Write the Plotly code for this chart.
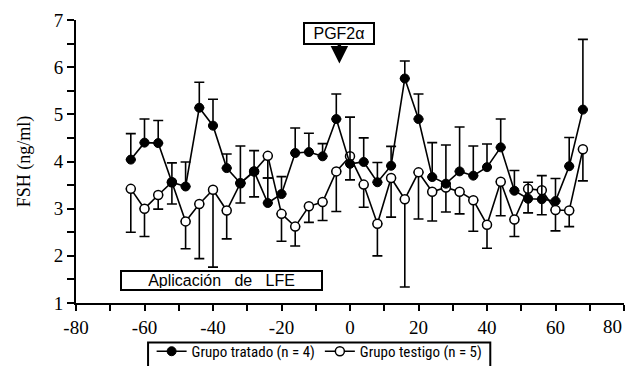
import plotly.graph_objects as go

# ---- data ----
dias = [-64, -60, -56, -52, -48, -44, -40, -36, -32, -28, -24, -20, -16, -12, -8, -4,
        0, 4, 8, 12, 16, 20, 24, 28, 32, 36, 40, 44, 48, 52, 56, 60, 64, 68]

tratado = [4.04, 4.40, 4.39, 3.56, 3.47, 5.14, 4.76, 3.86, 3.54, 3.79, 3.12, 3.31,
           4.18, 4.20, 4.11, 4.90, 3.95, 3.99, 3.56, 3.91, 5.76, 4.90, 3.67, 3.53,
           3.79, 3.70, 3.88, 4.30, 3.38, 3.21, 3.20, 3.16, 3.90, 5.10]
tratado_err = [0.55, 0.50, 0.48, 0.41, 0.52, 0.54, 0.56, 0.30, 0.79, 0.44, 0.53, 0.37,
               0.53, 0.40, 0.27, 0.53, 0.99, 0.51, 0.42, 0.41, 0.37, 0.53, 0.73, 0.82,
               0.94, 0.63, 0.49, 0.60, 0.43, 0.35, 0.50, 0.48, 0.61, 1.49]

testigo = [3.42, 3.00, 3.29, 3.56, 2.73, 3.10, 3.40, 2.96, 3.54, 3.79, 4.12, 2.89,
           2.62, 3.05, 3.14, 3.79, 4.11, 3.51, 2.68, 3.65, 3.20, 3.77, 3.36, 3.45,
           3.36, 3.18, 2.66, 3.57, 2.77, 3.42, 3.39, 2.97, 2.96, 4.26]
testigo_err = [0.92, 0.59, 0.30, 0.46, 0.58, 1.16, 1.64, 0.60, 0.42, 0.54, 0.47, 0.58,
               0.41, 0.34, 0.39, 0.85, 0.50, 0.48, 0.68, 0.83, 1.86, 0.99, 0.62, 0.52,
               0.47, 0.66, 0.50, 0.72, 0.36, 0.51, 0.52, 0.44, 0.34, 0.67]

x_ticks = [-80, -60, -40, -20, 0, 20, 40, 60]
x_ticktext = ["-80", "-60", "-40", "-20", "0", "20", "40", "60"]
x_last_tick = 80
y_ticks = [1, 2, 3, 4, 5, 6, 7]

serif = "Liberation Serif"
sans = "Liberation Sans"
narrow = "Liberation Sans Narrow, Arial Narrow, Roboto Condensed, Liberation Sans, sans-serif"

zeros = [0] * len(dias)

fig = go.Figure()

fig.add_trace(go.Scatter(
    x=dias, y=testigo, mode="lines+markers", name="Grupo testigo (n = 5)",
    line=dict(color="black", width=1.6),
    marker=dict(symbol="circle", size=9, color="white", line=dict(color="black", width=1.5)),
    error_y=dict(type="data", symmetric=False, array=zeros, arrayminus=testigo_err,
                 color="black", thickness=1.6, width=5),
    legendrank=2,
))
fig.add_trace(go.Scatter(
    x=dias, y=tratado, mode="lines+markers", name="Grupo tratado (n = 4)",
    line=dict(color="black", width=1.6),
    marker=dict(symbol="circle", size=9, color="black", line=dict(color="black", width=1)),
    error_y=dict(type="data", symmetric=False, array=tratado_err, arrayminus=zeros,
                 color="black", thickness=1.6, width=5),
    legendrank=1,
))

fig.add_annotation(
    x=-3.1, y=6.08, xref="x", yref="y", ax=0, ay=-30,
    text="PGF2α", showarrow=True, arrowhead=2, arrowsize=1.0, arrowwidth=3.5,
    arrowcolor="black", font=dict(family=sans, size=16, color="black"),
    bordercolor="black", borderwidth=2, borderpad=1, bgcolor="white",
    width=66, height=17,
)
fig.add_annotation(
    x=-37.66, y=1.468, xref="x", yref="y", showarrow=False,
    text="Aplicación\u00a0\u00a0\u00a0de\u00a0\u00a0\u00a0LFE",
    font=dict(family=sans, size=16, color="black"),
    bordercolor="black", borderwidth=2, borderpad=1, bgcolor="white",
    width=197, height=15, xanchor="center", yanchor="middle",
)
# last x tick label, kept inside the picture
fig.add_annotation(
    x=x_last_tick, y=0, xref="x", yref="paper", showarrow=False,
    text=str(x_last_tick), xanchor="right", yanchor="top", yshift=-11,
    font=dict(family=serif, size=19, color="black"),
)
# legend frame (runs off the bottom edge as in the reference)
fig.add_shape(
    type="rect", xref="paper", yref="paper",
    x0=0.1315, x1=0.756, y0=-0.140, y1=-0.25,
    line=dict(color="black", width=2), fillcolor="white", layer="below",
)

fig.update_layout(
    width=626, height=366,
    margin=dict(l=76, r=2, t=20, b=63, autoexpand=False),
    paper_bgcolor="white", plot_bgcolor="white",
    showlegend=True,
    legend=dict(
        orientation="h", x=0.138, y=-0.113, xanchor="left", yanchor="top",
        borderwidth=0, bgcolor="rgba(0,0,0,0)",
        font=dict(family=narrow, size=15, color="black"),
        traceorder="normal", itemwidth=30,
    ),
    xaxis=dict(
        range=[-80, 80], showgrid=False, zeroline=False,
        showline=True, linecolor="black", linewidth=2,
        ticks="outside", ticklen=6, tickwidth=2, tickcolor="black",
        tickvals=x_ticks, ticktext=x_ticktext,
        tickfont=dict(family=serif, size=19, color="black"),
        minor=dict(dtick=10, tick0=0, ticks="outside", ticklen=6, tickwidth=2, tickcolor="black"),
    ),
    yaxis=dict(
        range=[1, 7], showgrid=False, zeroline=False,
        showline=True, linecolor="black", linewidth=2,
        ticks="outside", ticklen=7, tickwidth=2, tickcolor="black",
        tickvals=y_ticks,
        tickfont=dict(family=serif, size=19, color="black"),
        minor=dict(dtick=0.5, tick0=0, ticks="outside", ticklen=7, tickwidth=2, tickcolor="black"),
        title=dict(text="FSH (ng/ml)", font=dict(family=serif, size=18, color="black"), standoff=18),
    ),
)

fig.write_html("out.html", config={"displayModeBar": False},
               post_script="document.body.style.margin='0';")
